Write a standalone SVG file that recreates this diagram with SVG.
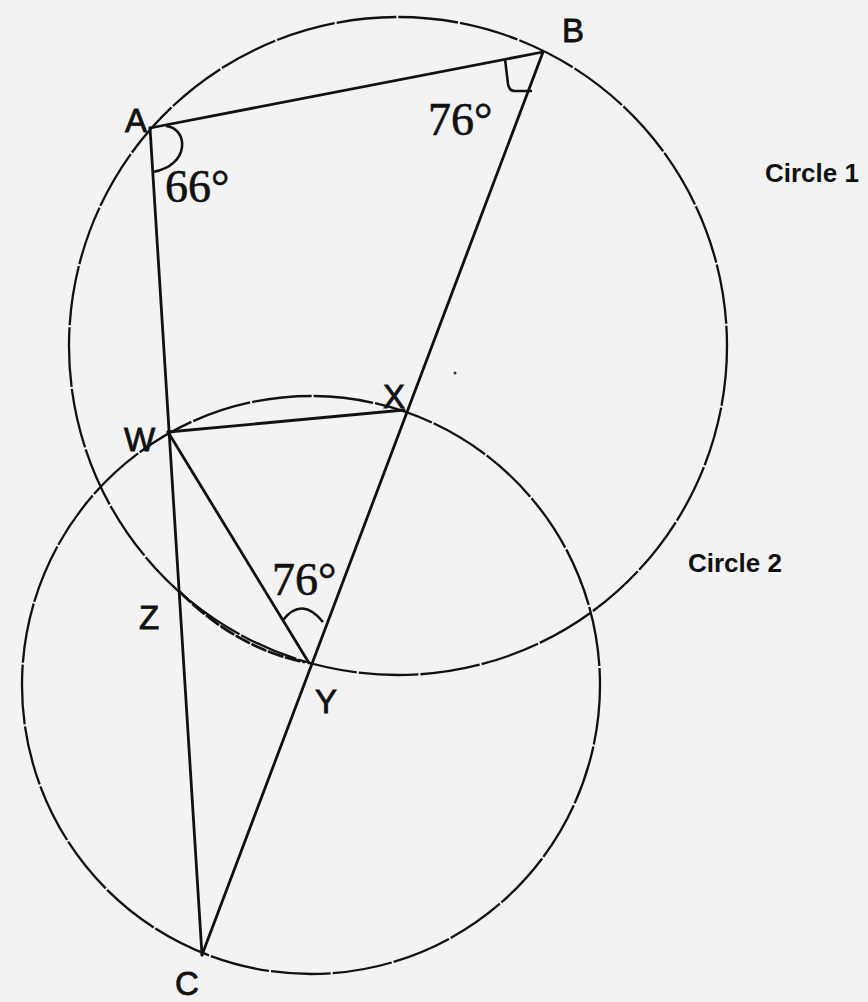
<svg xmlns="http://www.w3.org/2000/svg" width="868" height="1002" viewBox="0 0 868 1002">
<style>
.circ{fill:none;stroke:#111;stroke-width:2.3;stroke-dasharray:60 2}
.ln{fill:none;stroke:#111;stroke-width:2.8;stroke-linecap:round}
.mk{fill:none;stroke:#111;stroke-width:2.6}
.pt{font-family:"Liberation Sans",Arial,sans-serif;font-size:33px;fill:#111;stroke:#111;stroke-width:0.8}
.ang{font-family:"Liberation Serif","Times New Roman",serif;font-size:46px;fill:#111;stroke:#111;stroke-width:0.6}
.cl{font-family:"Liberation Sans",Arial,sans-serif;font-size:26px;font-weight:bold;fill:#111}
</style>
<rect width="868" height="1002" fill="#f3f3f3"/>
<g id="circle1"><circle class="circ" cx="398" cy="346" r="329"/></g>
<g id="circle2"><circle class="circ" cx="311" cy="685" r="289"/></g>
<g id="connectors">
<line class="ln" x1="150" y1="128" x2="543" y2="52"/>
<line class="ln" x1="150" y1="128" x2="202" y2="955"/>
<line class="ln" x1="543" y1="52" x2="202" y2="955"/>
<line class="ln" x1="168" y1="432" x2="404" y2="410"/>
<line class="ln" x1="168" y1="432" x2="309" y2="663"/>
<path class="ln" d="M180 592 Q236 648 304 662" stroke-dasharray="14 4" stroke-width="2.2"/>
</g>
<g id="angle-marks">
<path class="mk" d="M166 126 C188 128 191 165 153 172"/>
<path class="mk" d="M505 59 L508 84 Q509 91 515 91 L532 91"/>
<path class="mk" d="M283 620 Q302 596 323 622"/>
</g>
<g id="A"><text class="pt" x="125" y="132">A</text></g>
<g id="B"><text class="pt" x="562" y="42">B</text></g>
<g id="W"><text class="pt" x="124" y="451">W</text></g>
<g id="X"><text class="pt" x="383" y="408">X</text></g>
<g id="Z"><text class="pt" x="139" y="629">Z</text></g>
<g id="Y"><text class="pt" x="315" y="713">Y</text></g>
<g id="C"><text class="pt" x="175" y="995">C</text></g>
<g id="labels">
<text class="ang" x="165" y="202">66°</text>
<text class="ang" x="428" y="135">76°</text>
<text class="ang" x="272" y="595">76°</text>
<text class="cl" x="765" y="182">Circle 1</text>
<text class="cl" x="688" y="572">Circle 2</text>
<circle cx="455" cy="373" r="1.5" fill="#333"/>
</g>
</svg>
